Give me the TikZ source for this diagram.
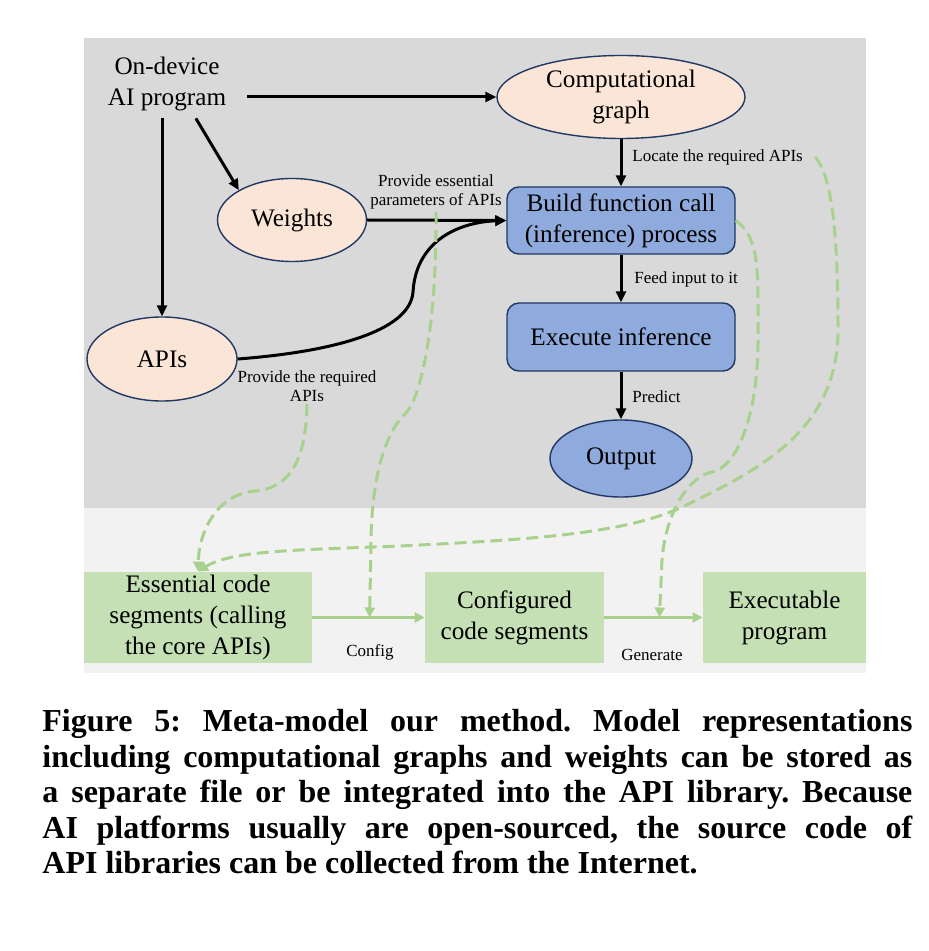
\documentclass[tikz,border=0pt]{standalone}
\usepackage{fontspec}
\setmainfont{Liberation Serif}
\usetikzlibrary{shapes.geometric,arrows.meta,calc}

\definecolor{panelgrey}{HTML}{D9D9D9}
\definecolor{panellight}{HTML}{F2F2F2}
\definecolor{nodepeach}{HTML}{FBE5D6}
\definecolor{nodeblue}{HTML}{8FAADC}
\definecolor{nodeborder}{HTML}{203864}
\definecolor{codegreen}{HTML}{C5E0B4}
\definecolor{flowgreen}{HTML}{A9D18E}

\begin{document}
\begin{tikzpicture}[
  x=0.5pt,
  y=-0.5pt,
  line join=round,
  bigtext/.style={font=\fontsize{12.6}{15.5}\selectfont,align=center},
  smalltext/.style={font=\fontsize{8.5}{9.8}\selectfont,align=center,inner sep=1pt},
  blob/.style={ellipse,draw=nodeborder,line width=0.7pt,inner sep=0pt,bigtext},
  stepbox/.style={rectangle,rounded corners=6pt,draw=nodeborder,line width=0.7pt,
    fill=nodeblue,inner sep=0pt,bigtext,minimum width=114pt},
  codebox/.style={rectangle,fill=codegreen,inner sep=0pt,bigtext,minimum height=45.5pt},
  flow/.style={draw=black,line width=1.5pt,-{Triangle[length=5.5pt,width=5pt]}},
  codeflow/.style={draw=flowgreen,line width=1.5pt,-{Triangle[length=5pt,width=5pt]}},
  hint/.style={draw=flowgreen,line width=1.5pt,dash pattern=on 6pt off 3pt,
    -{Triangle[length=5pt,width=5pt]}}
]
  % Page frame of the figure, caption included.
  \useasboundingbox (0,0) rectangle (929,951);

  % Two panels: model side on grey, code side on light grey.
  \fill[panelgrey] (84,38) rectangle (866,508);
  \fill[panellight] (84,508) rectangle (866,673);

  % Model side.
  \node[bigtext,inner xsep=10pt,inner ysep=3.5pt] (prog) at (167,84) {On-device\\AI program};
  \node[blob,fill=nodepeach,minimum width=124pt,minimum height=41.5pt] (comp) at (621,97)
    {Computational\\graph};
  \node[blob,fill=nodepeach,minimum width=74.5pt,minimum height=41.5pt] (weights) at (292,220)
    {Weights};
  \node[blob,fill=nodepeach,minimum width=75pt,minimum height=42pt] (apis) at (162,359)
    {APIs};
  \node[stepbox,minimum height=33.5pt] (build) at (621,220.5)
    {Build function call\\(inference) process};
  \node[stepbox,minimum height=34pt] (exec) at (621,337) {Execute inference};
  \node[blob,fill=nodeblue,minimum width=71pt,minimum height=38.5pt] (output) at (621,458.5)
    {Output};

  % Code side.
  \node[codebox,minimum width=114pt] (ess) at (198,617.5)
    {Essential code\\segments (calling\\the core APIs)};
  \node[codebox,minimum width=89.5pt] (conf) at (514.5,617.5)
    {Configured\\code segments};
  \node[codebox,minimum width=81.5pt] (exe) at (784.5,617.5)
    {Executable\\program};

  % Edge labels.
  \node[smalltext] (paramlbl) at (436,192) {Provide essential\\parameters of APIs};
  \node[smalltext] (reqlbl) at (307,386) {Provide the required\\APIs};
  \node[smalltext,anchor=west] (locatelbl) at (630,157) {Locate the required APIs};
  \node[smalltext,anchor=west] (feedlbl) at (632,279) {Feed input to it};
  \node[smalltext,anchor=west] (predictlbl) at (630,397) {Predict};
  \node[smalltext] (configlbl) at (370,652) {Config};
  \node[smalltext] (generatelbl) at (652,655) {Generate};

  % Black flow of the model.
  \draw[flow] (prog.east |- comp.west) -- (comp.west);
  \draw[flow] (prog.-50) -- (weights.north west);
  \draw[flow] (prog.south -| apis.north) -- (apis.north);
  \draw[flow] (weights.east) -- (build.west);
  \draw[flow] (apis.east) .. controls (330,352) and (410,332) .. (413,292)
    .. controls (416,240) and (460,222) .. (build.west);
  \draw[flow] (comp) -- (build);
  \draw[flow] (build) -- (exec);
  \draw[flow] (exec) -- (output);

  % Green flow of the code.
  \coordinate (cfgpt) at ($(ess.east)!0.51!(conf.west)$);
  \coordinate (genpt) at ($(conf.east)!0.56!(exe.west)$);
  \draw[codeflow] (ess.east) -- (conf.west);
  \draw[codeflow] (conf.east) -- (exe.west);

  % Dashed hints from the model down to the code.
  \draw[hint] (reqlbl.south) .. controls (306,460) and (290,488) .. (255,491)
    .. controls (218,494) and (199,530) .. (ess.north);
  \draw[hint] (paramlbl.south) .. controls (437,330) and (420,400) .. (405,414)
    .. controls (388,430) and (372,470) .. (371,540) -- (cfgpt);
  \draw[hint] (build.east) .. controls (760,238) and (758,270) .. (758,340)
    .. controls (758,420) and (735,468) .. (712,472)
    .. controls (690,476) and (666,510) .. (662,560) -- (genpt);
  \draw[hint] ([xshift=5pt]locatelbl.east) .. controls (830,175) and (838,220) .. (838,330)
    .. controls (838,430) and (760,470) .. (680,508)
    .. controls (620,535) and (520,540) .. (400,546)
    .. controls (300,550) and (232,550) .. (ess.north);

  % Caption below the figure.
  \node[anchor=north west,text width=435pt,inner sep=0pt,align=justify,
    font=\bfseries\fontsize{16}{17.75}\selectfont] (caption) at (42,709)
    {\parindent=0pt\leftskip=0pt\rightskip=0pt\spaceskip=0pt\xspaceskip=0pt\frenchspacing
     \tolerance=10000\hbadness=10000\parfillskip=0pt
     Figure 5: Meta-model our method. Model representations\par
     including computational graphs and weights can be stored as\par
     a separate file or be integrated into the API library. Because\par
     AI platforms usually are open-sourced, the source code of\par
     \parfillskip=0pt plus 1fil
     API libraries can be collected from the Internet.\par};
\end{tikzpicture}
\end{document}
